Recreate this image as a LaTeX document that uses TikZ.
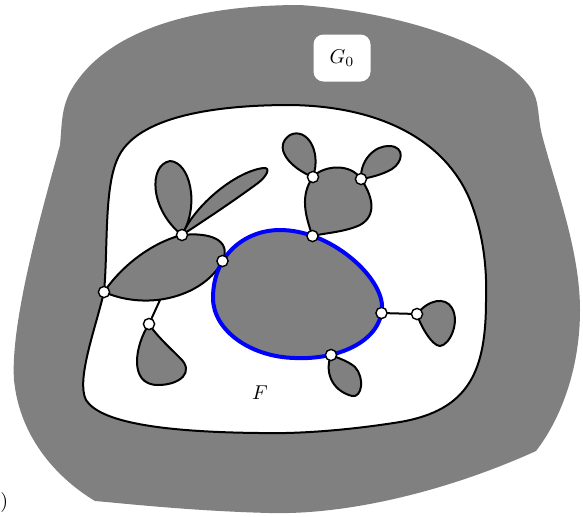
\documentclass[tikz,border=0pt]{standalone}
\begin{document}
\begin{tikzpicture}[x=0.5pt,y=-0.5pt,
  blob/.style={fill=gray,draw=black,line width=1pt,line join=round},
  vtx/.style={circle,fill=white,draw=black,line width=0.7pt,inner sep=0pt,minimum size=5.6pt},
  cyc/.style={fill=gray,draw=blue,line width=2pt},
  edge/.style={draw=black,line width=1pt}]
\useasboundingbox (0,0) rectangle (583,516);
% outer region G0
\fill[gray] (536,451) .. controls (450,490) and (350,515) .. (270,513)
  .. controls (190,511) and (120,503) .. (95,501)
  .. controls (60,480) and (20,440) .. (14,380)
  .. controls (10,320) and (45,200) .. (60,145)
  .. controls (62,125) and (61,110) .. (70,92)
  .. controls (110,20) and (220,5) .. (300,5)
  .. controls (400,12) and (500,45) .. (530,87)
  .. controls (540,100) and (537,115) .. (542,135)
  .. controls (555,185) and (580,250) .. (580,310)
  .. controls (580,370) and (560,420) .. (536,451) -- cycle;
% face F
\filldraw[fill=white,draw=black,line width=1pt]
  (104,292) .. controls (108,250) and (104,190) .. (117,160)
  .. controls (135,115) and (220,105) .. (290,105)
  .. controls (380,106) and (445,140) .. (470,200)
  .. controls (484,235) and (487,270) .. (486,300)
  .. controls (486,370) and (470,410) .. (400,422)
  .. controls (350,430) and (300,434) .. (260,433)
  .. controls (160,432) and (100,422) .. (86,400)
  .. controls (76,380) and (95,330) .. (104,292) -- cycle;
% vertex positions
\coordinate (A) at (182,235);
\coordinate (B) at (222.5,261);
\coordinate (C) at (104,292);
\coordinate (D) at (149,324);
\coordinate (S) at (160,300);
\coordinate (E) at (313,177);
\coordinate (Fv) at (361,179);
\coordinate (H) at (312.5,236);
\coordinate (I) at (381.5,313);
\coordinate (J) at (417,314);
\coordinate (K) at (331,355);
% left group
\filldraw[blob] (A) .. controls (150,210) and (148,165) .. (170,161)
  .. controls (190,162) and (200,205) .. (A) -- cycle;
\filldraw[blob] (A) .. controls (195,205) and (235,172) .. (263,168)
  .. controls (272,167) and (266,177) .. (258,183)
  .. controls (235,200) and (205,220) .. (A) -- cycle;
\filldraw[blob] (C) .. controls (120,268) and (150,243) .. (A)
  .. controls (210,232) and (232,240) .. (B)
  .. controls (205,295) and (150,312) .. (C) -- cycle;
\draw[edge] (S) -- (D);
\filldraw[blob] (D) .. controls (135,345) and (128,385) .. (158,385)
  .. controls (180,385) and (195,372) .. (180,358)
  .. controls (168,346) and (156,335) .. (D) -- cycle;
% top group
\filldraw[blob] (E) .. controls (290,168) and (272,147) .. (290,135)
  .. controls (306,127) and (322,150) .. (E) -- cycle;
\filldraw[blob] (Fv) .. controls (360,160) and (375,145) .. (390,146)
  .. controls (405,147) and (403,162) .. (392,169)
  .. controls (382,175) and (368,178) .. (Fv) -- cycle;
\filldraw[blob] (H) .. controls (305,215) and (300,195) .. (E)
  .. controls (322,166) and (350,162) .. (Fv)
  .. controls (372,195) and (378,215) .. (360,225)
  .. controls (345,232) and (325,233) .. (H) -- cycle;
% blue cycle
\filldraw[cyc] (280,230) .. controls (330,230) and (380,275) .. (382,305)
  .. controls (383,340) and (340,360) .. (295,358)
  .. controls (250,357) and (213,330) .. (213,298)
  .. controls (213,255) and (245,230) .. (280,230) -- cycle;
% right pendants
\draw[edge] (I) -- (J);
\filldraw[blob] (J) .. controls (428,300) and (445,296) .. (452,308)
  .. controls (460,322) and (450,345) .. (440,346)
  .. controls (432,346) and (420,325) .. (J) -- cycle;
\filldraw[blob] (K) .. controls (325,370) and (330,390) .. (352,396)
  .. controls (362,398) and (365,378) .. (355,367)
  .. controls (348,361) and (338,358) .. (K) -- cycle;
% vertices
\foreach \v in {A,B,C,D,E,Fv,H,I,J,K} \node[vtx] (n\v) at (\v) {};
% labels
\node[fill=white,rounded corners=5pt,minimum width=28.5pt,minimum height=23.5pt,inner sep=0pt] (g0) at (342,58) {$G_0$};
\node (flab) at (260,393) {$F$};
\node[anchor=base west,inner sep=0pt] (par) at (0,507) {)};
\end{tikzpicture}
\end{document}
